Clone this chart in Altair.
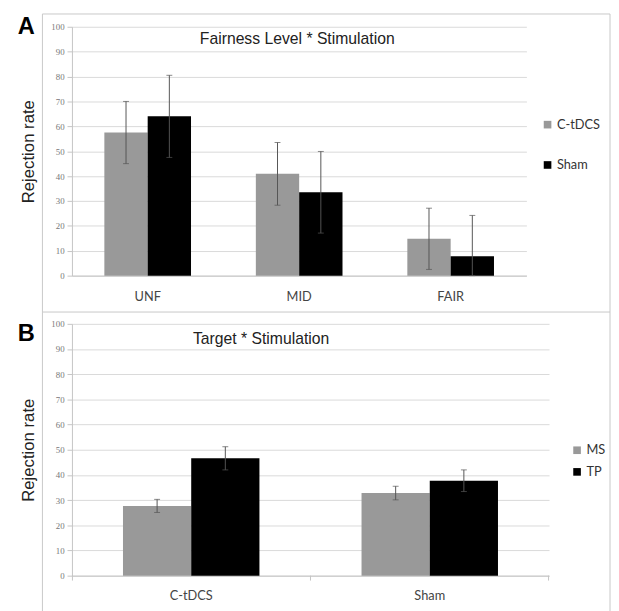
import altair as alt
import pandas as pd

# ---- Panel A data: Fairness Level * Stimulation ----
fair_levels = ["UNF", "MID", "FAIR"]
fair_groups = ["C-tDCS", "Sham"]
fair_ctdcs = [57.5, 40.9, 14.8]
fair_ctdcs_err = [12.5, 12.6, 12.3]
fair_sham = [64.0, 33.5, 7.8]
fair_sham_err = [16.5, 16.4, 16.4]

# ---- Panel B data: Target * Stimulation ----
target_stim = ["C-tDCS", "Sham"]
target_groups = ["MS", "TP"]
target_ms = [27.7, 32.8]
target_ms_err = [2.6, 2.7]
target_tp = [46.6, 37.7]
target_tp_err = [4.6, 4.3]

y_ticks = [0, 10, 20, 30, 40, 50, 60, 70, 80, 90, 100]


def long_df(cats, groups, vals1, err1, vals2, err2):
    rows = []
    for c, v, e in zip(cats, vals1, err1):
        rows.append({"cat": c, "grp": groups[0], "val": v, "lo": v - e, "hi": v + e})
    for c, v, e in zip(cats, vals2, err2):
        rows.append({"cat": c, "grp": groups[1], "val": v, "lo": v - e, "hi": v + e})
    return pd.DataFrame(rows)


dfA = long_df(fair_levels, fair_groups, fair_ctdcs, fair_ctdcs_err, fair_sham, fair_sham_err)
dfB = long_df(target_stim, target_groups, target_ms, target_ms_err, target_tp, target_tp_err)

one = pd.DataFrame({"k": [0]})
FRAME = "#c8c8c8"
AXC = "#c4c4c4"


def panel(df, cats, groups, width, height, title, tx, ty, letter, ly,
          lgx, lgy, rowpad, frame_layers, label_pad):
    xaxis = alt.Axis(title=None, labelFont="Lato", labelFontSize=13, labelColor="#444",
                     domainColor=AXC, labelAngle=0, ticks=False,
                     labelPadding=label_pad)
    yaxis = alt.Axis(title="Rejection rate", values=y_ticks, grid=True, gridColor="#d9d9d9",
                     domainColor=AXC, tickColor=AXC, tickSize=5,
                     labelFont="Liberation Serif", labelFontSize=9, labelColor="#777",
                     labelPadding=3, labelOverlap=False,
                     titleFont="Liberation Sans", titleFontSize=17,
                     titleFontWeight="normal", titleColor="#222", titlePadding=14)
    xenc = alt.X("cat:N", sort=cats, axis=xaxis,
                 scale=alt.Scale(paddingInner=0.428, paddingOuter=0.214))
    xoff = alt.XOffset("grp:N", sort=groups, scale=alt.Scale(paddingInner=0, paddingOuter=0))
    ysc = alt.Scale(domain=[0, 100], clamp=True)

    bars = alt.Chart(df).mark_bar().encode(
        x=xenc, xOffset=xoff,
        y=alt.Y("val:Q", scale=ysc, axis=yaxis),
        color=alt.Color("grp:N", scale=alt.Scale(domain=groups, range=["#999999", "#000000"]),
                        legend=alt.Legend(title=None, orient="none", legendX=lgx, legendY=lgy,
                                          symbolType="square", symbolSize=60,
                                          symbolStrokeWidth=0, labelFont="Lato",
                                          labelFontSize=13, labelColor="#333",
                                          rowPadding=rowpad, labelOffset=3)),
    )
    rule = alt.Chart(df).mark_rule(color="#555555", strokeWidth=1).encode(
        x=xenc, xOffset=xoff,
        y=alt.Y("lo:Q", scale=ysc, axis=yaxis), y2="hi:Q")
    cap_hi = alt.Chart(df).mark_tick(color="#555555", size=6, thickness=1).encode(
        x=xenc, xOffset=xoff, y=alt.Y("hi:Q", scale=ysc, axis=yaxis))
    cap_lo = alt.Chart(df).mark_tick(color="#555555", size=6, thickness=1).encode(
        x=xenc, xOffset=xoff, y=alt.Y("lo:Q", scale=ysc, axis=yaxis))

    ttl = alt.Chart(pd.DataFrame({"t": [title]})).mark_text(
        font="Liberation Sans", fontSize=16, color="#222", align="left", baseline="middle"
    ).encode(text="t:N", x=alt.value(tx), y=alt.value(ty))
    let = alt.Chart(pd.DataFrame({"t": [letter]})).mark_text(
        font="Liberation Sans", fontSize=24, fontWeight="bold", color="#000",
        align="left", baseline="alphabetic"
    ).encode(text="t:N", x=alt.value(-55), y=alt.value(ly))

    return alt.layer(*frame_layers, bars, rule, cap_hi, cap_lo, ttl, let).properties(
        width=width, height=height)


# frame of panel A: full box
frameA = [alt.Chart(one).mark_rect(fill="transparent", stroke=FRAME, strokeWidth=1).encode(
    x=alt.value(-30), x2=alt.value(547), y=alt.value(-13), y2=alt.value(290))]
# frame of panel B: sides only (its top edge is panel A's bottom edge),
# plus the category-divider ticks of its x axis (Excel style)
frameB = [
    alt.Chart(one).mark_rule(color=FRAME, strokeWidth=1).encode(
        x=alt.value(-30), y=alt.value(-12), y2=alt.value(295)),
    alt.Chart(one).mark_rule(color=FRAME, strokeWidth=1).encode(
        x=alt.value(547), y=alt.value(-12), y2=alt.value(295)),
] + [
    alt.Chart(one).mark_rule(color=AXC, strokeWidth=1).encode(
        x=alt.value(tx_), y=alt.value(256), y2=alt.value(261))
    for tx_ in (0.5, 242.5, 484.5)
]

A = panel(dfA, fair_levels, fair_groups, 462, 253, "Fairness Level * Stimulation",
          130, 13, "A", 7, 477, 93, 27, frameA, 15)
B = panel(dfB, target_stim, target_groups, 485, 256, "Target * Stimulation",
          123, 15, "B", 17, 507, 122, 8, frameB, 14)

chart = alt.vconcat(A, B, spacing=-2).resolve_scale(
    color="independent", x="independent", y="independent", xOffset="independent"
).properties(
    padding={"left": 10, "top": 0, "right": 0, "bottom": 0}
).configure_view(strokeWidth=0)

chart.save("out.html", embed_options={"renderer": "svg", "actions": False})
